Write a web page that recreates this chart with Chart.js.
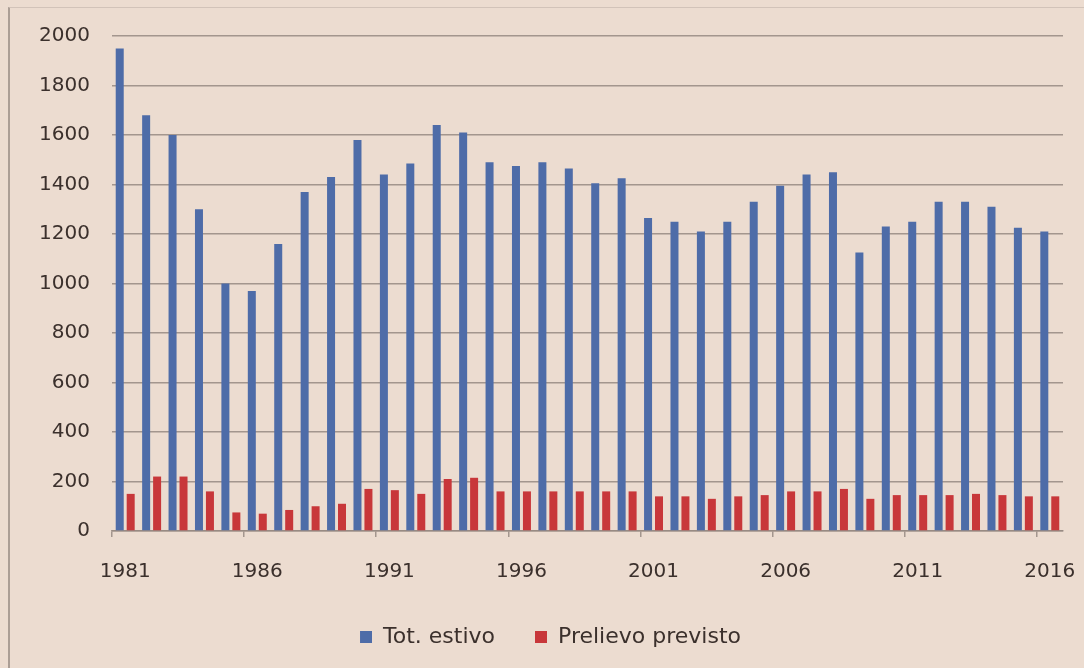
<!DOCTYPE html>
<html>
<head>
<meta charset="utf-8">
<title>Tot. estivo / Prelievo previsto 1981–2016</title>
<script src="https://cdn.jsdelivr.net/npm/chart.js@4/dist/chart.umd.min.js"></script>
<style>
  html, body { margin: 0; padding: 0; background: #ecdcd0; }
  #wrap { position: relative; width: 1084px; height: 668px; overflow: hidden; }
  #frame {
    position: absolute; left: 8px; top: 7px; right: -4px; bottom: -4px;
    border-left: 2px solid rgba(150, 138, 130, 0.75);
    border-top: 1px solid rgba(150, 138, 130, 0.3);
  }
  canvas { position: absolute; left: 0; top: 0; }
</style>
</head>
<body>
<div id="wrap">
  <div id="frame"></div>
  <canvas id="chart" width="1084" height="668"></canvas>
</div>
<script>
// Years on the category axis
const years = [
  1981, 1982, 1983, 1984, 1985, 1986, 1987, 1988, 1989, 1990,
  1991, 1992, 1993, 1994, 1995, 1996, 1997, 1998, 1999, 2000,
  2001, 2002, 2003, 2004, 2005, 2006, 2007, 2008, 2009, 2010,
  2011, 2012, 2013, 2014, 2015, 2016
];

// Summer total
const totEstivo = [
  1950, 1680, 1600, 1300, 1000, 970, 1160, 1370, 1430, 1580,
  1440, 1485, 1640, 1610, 1490, 1475, 1490, 1465, 1405, 1425,
  1265, 1250, 1210, 1250, 1330, 1395, 1440, 1450, 1125, 1230,
  1250, 1330, 1330, 1310, 1225, 1210
];

// Planned withdrawal
const prelievoPrevisto = [
  150, 220, 220, 160, 75, 70, 85, 100, 110, 170,
  165, 150, 210, 215, 160, 160, 160, 160, 160, 160,
  140, 140, 130, 140, 145, 160, 160, 170, 130, 145,
  145, 145, 150, 145, 140, 140
];

// Value axis ticks
const yTicks = [0, 200, 400, 600, 800, 1000, 1200, 1400, 1600, 1800, 2000];

const textColor = '#3b302c';
const gridColor = 'rgba(150, 138, 130, 0.85)';
const fontFamily = '"DejaVu Sans", Verdana, sans-serif';

// Keeps the legend band at a fixed height below the axis and centres it under the plot
const legendBand = {
  id: 'legendBand',
  beforeLayout(chart) {
    const lg = chart.legend;
    if (lg && !lg._bandPatched) {
      const fit = lg.fit.bind(lg);
      lg.fit = function () { fit(); this.height = 82; };
      lg._bandPatched = true;
    }
  },
  afterLayout(chart) {
    const lg = chart.legend;
    if (lg) {
      lg.left += 19;
      lg.right += 19;
    }
  }
};

new Chart(document.getElementById('chart'), {
  type: 'bar',
  data: {
    labels: years.map(String),
    datasets: [
      {
        label: 'Tot. estivo',
        data: totEstivo,
        backgroundColor: '#4e6ca8',
        borderWidth: 0,
        categoryPercentage: 0.83,
        barPercentage: 0.73
      },
      {
        label: 'Prelievo previsto',
        data: prelievoPrevisto,
        backgroundColor: '#c8373a',
        borderWidth: 0,
        categoryPercentage: 0.83,
        barPercentage: 0.73
      }
    ]
  },
  options: {
    responsive: false,
    animation: false,
    devicePixelRatio: 1,
    layout: { padding: { top: 36, right: 21, bottom: 0, left: 0 } },
    plugins: {
      title: { display: false },
      tooltip: { enabled: false },
      legend: {
        position: 'bottom',
        labels: {
          color: textColor,
          font: { family: fontFamily, size: 22 },
          boxWidth: 12,
          boxHeight: 12,
          padding: 40
        }
      }
    },
    scales: {
      x: {
        offset: true,
        grid: {
          offset: true,
          drawOnChartArea: false,
          drawTicks: true,
          tickLength: 6,
          lineWidth: 1.5,
          color: (ctx) => (ctx.index % 5 === 0 && ctx.index < years.length) ? gridColor : 'rgba(0,0,0,0)'
        },
        border: { display: true, color: gridColor, width: 1.5 },
        ticks: {
          autoSkip: false,
          maxRotation: 0,
          minRotation: 0,
          padding: 23,
          color: textColor,
          font: { family: fontFamily, size: 20 },
          callback: function (value, index) {
            return index % 5 === 0 ? String(years[index]) : '';
          }
        },
        afterFit(scale) {
          scale.height = 55;
          scale.paddingLeft = 0;
          scale.paddingRight = 0;
        }
      },
      y: {
        min: yTicks[0],
        max: yTicks[yTicks.length - 1],
        afterBuildTicks(scale) { scale.ticks = yTicks.map(v => ({ value: v })); },
        grid: {
          drawTicks: false,
          lineWidth: 1.5,
          color: gridColor
        },
        border: { display: false },
        ticks: {
          padding: 22,
          color: textColor,
          font: { family: fontFamily, size: 20 },
          callback: (value) => String(value)
        },
        afterFit(scale) { scale.width = 112; }
      }
    }
  },
  plugins: [legendBand]
});
</script>
</body>
</html>
